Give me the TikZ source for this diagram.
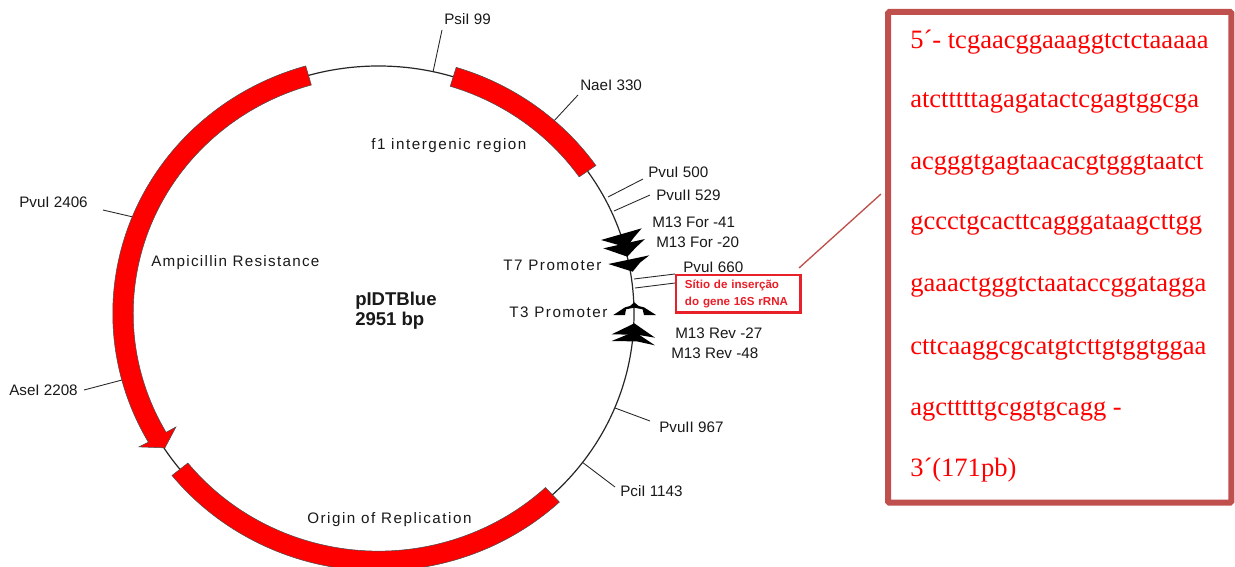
\documentclass[tikz,border=0pt]{standalone}
\usepackage{fontspec}
\usetikzlibrary{calc}
\setmainfont{Liberation Sans}
\newfontfamily\seriffont{Liberation Serif}
\newfontfamily\wide[LetterSpace=10]{Liberation Sans}
\newfontfamily\widetoo[LetterSpace=8.5]{Liberation Sans}
\definecolor{boxred}{HTML}{C0504D}
\definecolor{tagred}{HTML}{E8202A}
\tikzset{
  x=0.75pt,y=0.75pt,
  site/.style={font=\fontsize{11.4pt}{13pt}\selectfont,anchor=west,inner sep=0pt,text=black!90},
  feat/.style={font=\fontsize{11.4pt}{13pt}\wide,anchor=west,inner sep=0pt,text=black!90},
  tick/.style={draw=black!85,line width=0.65pt},
  redseg/.style={fill=red,draw=black!70,line width=0.4pt},
  seqline/.style={font=\fontsize{19.9pt}{22pt}\seriffont,text=red,anchor=west,inner sep=0pt},
  blackmark/.style={fill=black,draw=none}
}
\begin{document}
\begin{tikzpicture}
\useasboundingbox (0,0) rectangle (1235,-567);
\fill[white] (0,0) rectangle (1235,-567);
\begin{scope}
\clip (0,0) rectangle (1235,-567);
% ticks
\foreach \nm/\ax/\ay/\bx/\by in {a/433/72/442/30,b/553/122/578/95,d/608/197/643/179,e/614/211/650/195,f/634/279/675/274,g/635/288/675/283,h/615/408/650/421,i/582/462/615/487,j/133/217/103/210,k/122/380/84/390}{
  \coordinate (t\nm1) at (\ax,-\ay);
  \coordinate (t\nm2) at (\bx,-\by);
  \draw[tick] (t\nm1) -- (t\nm2);
}
% the slightly oval plasmid ring, unit radius 250
\begin{scope}[shift={(378.5,-313.5)},xscale=1.022,yscale=0.99]
\draw[black!85,line width=0.9pt] (0,0) circle[radius=250];
\path[redseg] (73:240) arc[start angle=73,end angle=35.1,radius=240] -- (35.1:260) arc[start angle=35.1,end angle=73,radius=260] -- cycle;
\path[redseg] (219:240) arc[start angle=219,end angle=312.9,radius=240] -- (312.9:260) arc[start angle=312.9,end angle=219,radius=260] -- cycle;
\path[redseg] (105.9:240) arc[start angle=105.9,end angle=210,radius=240] -- (210.05:229) -- (213:249.2) -- (209.9:270.3) -- (210:260) arc[start angle=210,end angle=105.9,radius=260] -- cycle;
\end{scope}
\end{scope}
% black marks, in the coordinates of the zoomed crop
\begin{scope}[shift={(490,-150)},x=0.25pt,y=-0.25pt]
\path[blackmark] (455,235) -- (333,270) -- (410,292) -- (432,262) -- cycle;
\path[blackmark] (465,267) -- (340,295) -- (412,320) -- (438,292) -- cycle;
\path[blackmark] (478,316) -- (355,342) -- (428,365) -- (450,338) -- cycle;
\path[blackmark] (370,495) -- (405,472) -- (420,468) -- (433,457) -- (446,468) -- (462,472) -- (498,495) -- (462,495) -- (458,478) -- (433,473) -- (408,478) -- (405,495) -- cycle;
\path[blackmark] (365,553) -- (433,520) -- (495,563) -- (440,554) -- (425,554) -- cycle;
\path[blackmark] (365,573) -- (433,545) -- (495,586) -- (440,574) -- (425,574) -- cycle;
\end{scope}
% labels
\node[site] (n1) at (444,-19.5) {PsiI 99};
\node[site] (n2) at (580,-85.5) {NaeI 330};
\node[site] (n3) at (648,-172.5) {PvuI 500};
\node[site] (n4) at (656,-195.5) {PvuII 529};
\node[site] (n5) at (652,-222.5) {M13 For -41};
\node[site] (n6) at (656,-242.5) {M13 For -20};
\node[site] (n7) at (683,-267.5) {PvuI 660};
\node[site] (n8) at (675,-333.5) {M13 Rev -27};
\node[site] (n9) at (671,-353.5) {M13 Rev -48};
\node[site] (n10) at (659,-427.5) {PvuII 967};
\node[site] (n11) at (620,-491.5) {PciI 1143};
\node[site] (n12) at (19,-202.5) {PvuI 2406};
\node[site] (n13) at (9,-390.5) {AseI 2208};
\node[feat] (f1) at (371,-145.5) {f1 intergenic region};
\node[feat] (f2) at (503,-265.5) {T7 Promoter};
\node[feat] (f3) at (509,-312.5) {T3 Promoter};
\node[feat,font=\fontsize{11.4pt}{13pt}\widetoo] (f4) at (151,-262.5) {Ampicillin Resistance};
\node[feat] (f5) at (307,-519.5) {Origin of Replication};
\node[anchor=west,inner sep=0pt,font=\fontsize{13.9pt}{15pt}\selectfont\bfseries,align=left,text=black!90] (title) at (355,-311) {pIDTBlue\\2951 bp};
% insertion tag
\node[draw=tagred,line width=2.2pt,fill=white,minimum width=93.5pt,minimum height=28.2pt,inner sep=0pt,anchor=north west,font=\fontsize{8.7pt}{13pt}\selectfont\bfseries,text=tagred!90!red,align=left,text width=80pt] (tag) at (674.5,-273.5) {Sítio de inserção\\do gene 16S rRNA};
% sequence box
\node[draw=boxred,line width=4.5pt,rounded corners=1pt,minimum width=257.5pt,minimum height=368pt,inner sep=0pt,anchor=north west] (seq) at (885,-9) {};
\coordinate (la) at (799,-268);
\coordinate (lb) at (881,-194);
\draw[boxred,line width=1pt] (la) -- (lb);
\node[seqline] (s1) at (910,-42.5) {5´- tcgaacggaaaggtctctaaaaa};
\node[seqline] (s2) at (910,-102.5) {atctttttagagatactcgagtggcga};
\node[seqline] (s3) at (910,-164.5) {acgggtgagtaacacgtgggtaatct};
\node[seqline] (s4) at (910,-224.5) {gccctgcacttcagggataagcttgg};
\node[seqline] (s5) at (910,-286.5) {gaaactgggtctaataccggatagga};
\node[seqline] (s6) at (910,-349.5) {cttcaaggcgcatgtcttgtggtggaa};
\node[seqline] (s7) at (910,-410.5) {agctttttgcggtgcagg -};
\node[seqline] (s8) at (910,-470.5) {3´(171pb)};
\end{tikzpicture}
\end{document}
